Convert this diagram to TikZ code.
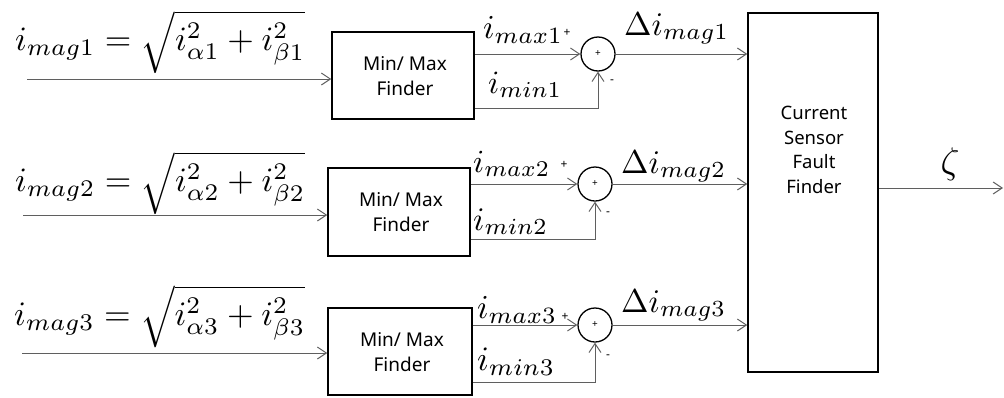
\documentclass[tikz,border=0pt]{standalone}
\usepackage{fontspec}
\usepackage{graphicx}
\usetikzlibrary{arrows.meta}
\newfontfamily\blockfont{Noto Sans}
\definecolor{wirecol}{RGB}{95,95,95}

\begin{document}
\begin{tikzpicture}[x=1pt,y=-1pt,
  blk/.style={draw=black, line width=1.5pt, inner sep=0pt, rectangle},
  sumj/.style={circle, draw=black, line width=1.3pt, minimum size=34pt, inner sep=0pt},
  wire/.style={draw=wirecol, line width=1pt},
  sig/.style={wire, -{Straight Barb[length=9pt,width=12pt]}},
  lbl/.style={inner sep=0pt, anchor=base west},
  blocktext/.style={font=\blockfont\fontsize{19}{25}\selectfont, align=center},
  signlbl/.style={font=\blockfont\fontsize{12}{12}\selectfont, inner sep=0pt}
]
\useasboundingbox (0,0) rectangle (1004,397);

% magnitude formulas
\node[lbl] (f1) at (15,50)  {\resizebox{290pt}{!}{$i_{mag1} = \sqrt{i_{\alpha1}^2 + i_{\beta1}^2}$}};
\node[lbl] (f2) at (15,191) {\resizebox{290pt}{!}{$i_{mag2} = \sqrt{i_{\alpha2}^2 + i_{\beta2}^2}$}};
\node[lbl] (f3) at (14,325) {\resizebox{291pt}{!}{$i_{mag3} = \sqrt{i_{\alpha3}^2 + i_{\beta3}^2}$}};

% min/max finder blocks
\node[blk, minimum width=142pt, minimum height=87pt] (mm1) at (403,75.5) {};
\node[blk, minimum width=142pt, minimum height=88pt] (mm2) at (399,212) {};
\node[blk, minimum width=144pt, minimum height=87pt] (mm3) at (400,351.5) {};
\node[blocktext] (t1) at (405,76) {Min/ Max\\Finder};
\node[blocktext] (t2) at (401,212) {Min/ Max\\Finder};
\node[blocktext] (t3) at (402,352) {Min/ Max\\Finder};

% summing junctions
\node[sumj] (s1) at (598,54) {};
\node[sumj] (s2) at (595,184) {};
\node[sumj] (s3) at (595,325) {};
\node[signlbl, font=\blockfont\fontsize{10}{10}\selectfont] (p1) at (s1.center) {+};
\node[signlbl, font=\blockfont\fontsize{10}{10}\selectfont] (p2) at (s2.center) {+};
\node[signlbl, font=\blockfont\fontsize{10}{10}\selectfont] (p3) at (s3.center) {+};

% fault finder
\node[blk, minimum width=130pt, minimum height=359pt] (ff) at (813,192.5) {};
\node[blocktext, font=\blockfont\fontsize{18.5}{24.5}\selectfont] (tf) at (814,150) {Current\\Sensor\\Fault\\Finder};

% input signals
\coordinate (in1) at (27,79);
\coordinate (in2) at (23,215);
\coordinate (in3) at (22,353);
\draw[sig] (in1) -- (in1 -| mm1.west);
\draw[sig] (in2) -- (in2 -| mm2.west);
\draw[sig] (in3) -- (in3 -| mm3.west);

% max paths
\draw[sig] (mm1.east |- s1.west) -- (s1.west);
\draw[sig] (mm2.east |- s2.west) -- (s2.west);
\draw[sig] (mm3.east |- s3.west) -- (s3.west);

% min paths
\coordinate (lo1) at (0,108);
\coordinate (lo2) at (0,239);
\coordinate (lo3) at (0,382);
\draw[sig] (mm1.east |- lo1) -| (s1.south);
\draw[sig] (mm2.east |- lo2) -| (s2.south);
\draw[sig] (mm3.east |- lo3) -| (s3.south);

% differences into the fault finder
\draw[sig] (s1.east) -- (s1.east -| ff.west);
\draw[sig] (s2.east) -- (s2.east -| ff.west);
\draw[sig] (s3.east) -- (s3.east -| ff.west);

% output
\coordinate (out) at (1003,188);
\draw[sig] (ff.east |- out) -- (out);

% path labels
\node[lbl] (mx1) at (483,38)  {\resizebox{80pt}{!}{$i_{max1}$}};
\node[lbl] (mn1) at (488,93)  {\resizebox{74pt}{!}{$i_{min1}$}};
\node[lbl] (mx2) at (473,172) {\resizebox{77pt}{!}{$i_{max2}$}};
\node[lbl] (mn2) at (473,230) {\resizebox{75pt}{!}{$i_{min2}$}};
\node[lbl] (mx3) at (477,318) {\resizebox{80pt}{!}{$i_{max3}$}};
\node[lbl] (mn3) at (477,370) {\resizebox{78pt}{!}{$i_{min3}$}};

\node[signlbl] (sp1) at (567,33)  {+};
\node[signlbl] (sp2) at (564,165) {+};
\node[signlbl] (sp3) at (565,317) {+};
\node[signlbl] (sm1) at (612,82)  {-};
\node[signlbl] (sm2) at (608,214) {-};
\node[signlbl] (sm3) at (608,357) {-};

\node[lbl] (d1) at (624,35)  {\resizebox{105pt}{!}{$\Delta i_{mag1}$}};
\node[lbl] (d2) at (621,173) {\resizebox{105pt}{!}{$\Delta i_{mag2}$}};
\node[lbl] (d3) at (621,312) {\resizebox{105pt}{!}{$\Delta i_{mag3}$}};

\node[inner sep=0pt] (z) at (950,164) {\scalebox{3.7}{$\zeta$}};
\end{tikzpicture}
\end{document}
